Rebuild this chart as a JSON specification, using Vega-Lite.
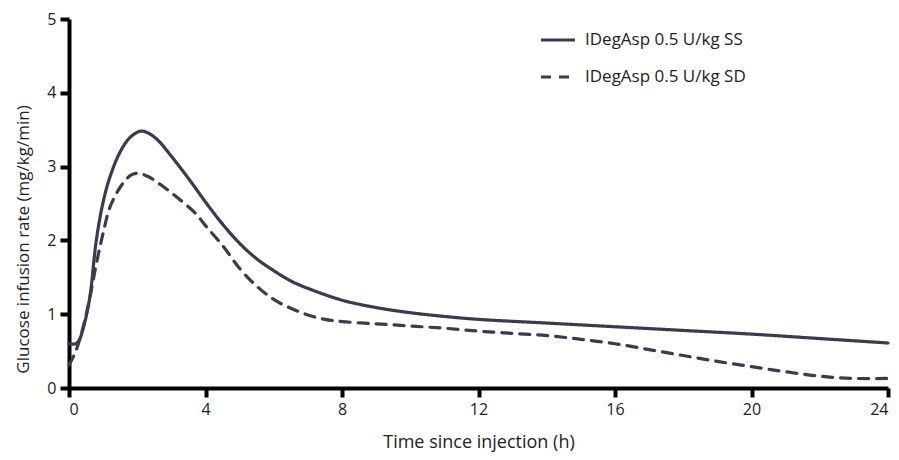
{
  "$schema": "https://vega.github.io/schema/vega-lite/v6.json",
  "autosize": "none",
  "width": 819,
  "height": 369,
  "padding": {"left": 69, "top": 19, "right": 11, "bottom": 72},
  "background": "white",
  "config": {
    "font": "Open Sans",
    "view": {"stroke": null}
  },
  "data": {"values": [
    {"t": 0, "v": 0.6, "s": "IDegAsp 0.5 U/kg SS"},
    {"t": 0.2, "v": 0.6, "s": "IDegAsp 0.5 U/kg SS"},
    {"t": 0.3, "v": 0.65, "s": "IDegAsp 0.5 U/kg SS"},
    {"t": 0.4, "v": 0.78, "s": "IDegAsp 0.5 U/kg SS"},
    {"t": 0.6, "v": 1.2, "s": "IDegAsp 0.5 U/kg SS"},
    {"t": 0.8, "v": 2.0, "s": "IDegAsp 0.5 U/kg SS"},
    {"t": 1.0, "v": 2.52, "s": "IDegAsp 0.5 U/kg SS"},
    {"t": 1.2, "v": 2.86, "s": "IDegAsp 0.5 U/kg SS"},
    {"t": 1.5, "v": 3.2, "s": "IDegAsp 0.5 U/kg SS"},
    {"t": 1.8, "v": 3.4, "s": "IDegAsp 0.5 U/kg SS"},
    {"t": 2.1, "v": 3.48, "s": "IDegAsp 0.5 U/kg SS"},
    {"t": 2.3, "v": 3.46, "s": "IDegAsp 0.5 U/kg SS"},
    {"t": 2.6, "v": 3.36, "s": "IDegAsp 0.5 U/kg SS"},
    {"t": 3.0, "v": 3.14, "s": "IDegAsp 0.5 U/kg SS"},
    {"t": 3.5, "v": 2.84, "s": "IDegAsp 0.5 U/kg SS"},
    {"t": 4.0, "v": 2.52, "s": "IDegAsp 0.5 U/kg SS"},
    {"t": 4.5, "v": 2.22, "s": "IDegAsp 0.5 U/kg SS"},
    {"t": 5.0, "v": 1.96, "s": "IDegAsp 0.5 U/kg SS"},
    {"t": 5.5, "v": 1.75, "s": "IDegAsp 0.5 U/kg SS"},
    {"t": 6.0, "v": 1.59, "s": "IDegAsp 0.5 U/kg SS"},
    {"t": 6.5, "v": 1.45, "s": "IDegAsp 0.5 U/kg SS"},
    {"t": 7.0, "v": 1.35, "s": "IDegAsp 0.5 U/kg SS"},
    {"t": 8.0, "v": 1.19, "s": "IDegAsp 0.5 U/kg SS"},
    {"t": 9.0, "v": 1.09, "s": "IDegAsp 0.5 U/kg SS"},
    {"t": 10.0, "v": 1.02, "s": "IDegAsp 0.5 U/kg SS"},
    {"t": 11.0, "v": 0.97, "s": "IDegAsp 0.5 U/kg SS"},
    {"t": 12.0, "v": 0.93, "s": "IDegAsp 0.5 U/kg SS"},
    {"t": 14.0, "v": 0.88, "s": "IDegAsp 0.5 U/kg SS"},
    {"t": 16.0, "v": 0.83, "s": "IDegAsp 0.5 U/kg SS"},
    {"t": 18.0, "v": 0.78, "s": "IDegAsp 0.5 U/kg SS"},
    {"t": 20.0, "v": 0.73, "s": "IDegAsp 0.5 U/kg SS"},
    {"t": 22.0, "v": 0.67, "s": "IDegAsp 0.5 U/kg SS"},
    {"t": 24.0, "v": 0.61, "s": "IDegAsp 0.5 U/kg SS"},
    {"t": 0, "v": 0.31, "s": "IDegAsp 0.5 U/kg SD"},
    {"t": 0.2, "v": 0.5, "s": "IDegAsp 0.5 U/kg SD"},
    {"t": 0.4, "v": 0.8, "s": "IDegAsp 0.5 U/kg SD"},
    {"t": 0.6, "v": 1.2, "s": "IDegAsp 0.5 U/kg SD"},
    {"t": 0.8, "v": 1.68, "s": "IDegAsp 0.5 U/kg SD"},
    {"t": 1.0, "v": 2.1, "s": "IDegAsp 0.5 U/kg SD"},
    {"t": 1.2, "v": 2.45, "s": "IDegAsp 0.5 U/kg SD"},
    {"t": 1.5, "v": 2.72, "s": "IDegAsp 0.5 U/kg SD"},
    {"t": 1.8, "v": 2.88, "s": "IDegAsp 0.5 U/kg SD"},
    {"t": 2.0, "v": 2.91, "s": "IDegAsp 0.5 U/kg SD"},
    {"t": 2.3, "v": 2.87, "s": "IDegAsp 0.5 U/kg SD"},
    {"t": 2.7, "v": 2.75, "s": "IDegAsp 0.5 U/kg SD"},
    {"t": 3.2, "v": 2.57, "s": "IDegAsp 0.5 U/kg SD"},
    {"t": 3.7, "v": 2.37, "s": "IDegAsp 0.5 U/kg SD"},
    {"t": 4.0, "v": 2.2, "s": "IDegAsp 0.5 U/kg SD"},
    {"t": 4.5, "v": 1.93, "s": "IDegAsp 0.5 U/kg SD"},
    {"t": 5.0, "v": 1.62, "s": "IDegAsp 0.5 U/kg SD"},
    {"t": 5.5, "v": 1.38, "s": "IDegAsp 0.5 U/kg SD"},
    {"t": 6.0, "v": 1.2, "s": "IDegAsp 0.5 U/kg SD"},
    {"t": 6.5, "v": 1.08, "s": "IDegAsp 0.5 U/kg SD"},
    {"t": 7.0, "v": 0.99, "s": "IDegAsp 0.5 U/kg SD"},
    {"t": 7.5, "v": 0.93, "s": "IDegAsp 0.5 U/kg SD"},
    {"t": 8.0, "v": 0.9, "s": "IDegAsp 0.5 U/kg SD"},
    {"t": 9.0, "v": 0.87, "s": "IDegAsp 0.5 U/kg SD"},
    {"t": 10.0, "v": 0.84, "s": "IDegAsp 0.5 U/kg SD"},
    {"t": 11.0, "v": 0.81, "s": "IDegAsp 0.5 U/kg SD"},
    {"t": 12.0, "v": 0.77, "s": "IDegAsp 0.5 U/kg SD"},
    {"t": 13.0, "v": 0.74, "s": "IDegAsp 0.5 U/kg SD"},
    {"t": 14.0, "v": 0.71, "s": "IDegAsp 0.5 U/kg SD"},
    {"t": 15.0, "v": 0.66, "s": "IDegAsp 0.5 U/kg SD"},
    {"t": 16.0, "v": 0.6, "s": "IDegAsp 0.5 U/kg SD"},
    {"t": 17.0, "v": 0.52, "s": "IDegAsp 0.5 U/kg SD"},
    {"t": 18.0, "v": 0.44, "s": "IDegAsp 0.5 U/kg SD"},
    {"t": 19.0, "v": 0.36, "s": "IDegAsp 0.5 U/kg SD"},
    {"t": 20.0, "v": 0.29, "s": "IDegAsp 0.5 U/kg SD"},
    {"t": 21.0, "v": 0.22, "s": "IDegAsp 0.5 U/kg SD"},
    {"t": 22.0, "v": 0.16, "s": "IDegAsp 0.5 U/kg SD"},
    {"t": 23.0, "v": 0.13, "s": "IDegAsp 0.5 U/kg SD"},
    {"t": 24.0, "v": 0.13, "s": "IDegAsp 0.5 U/kg SD"}
  ]},
  "mark": {"type": "line", "interpolate": "catmull-rom", "color": "#3b3a4e", "strokeWidth": 3.2, "strokeCap": "round", "clip": false},
  "encoding": {
    "x": {"field": "t", "type": "quantitative", "scale": {"domain": [0, 24], "nice": false, "zero": false},
      "axis": {"values": [0, 4, 8, 12, 16, 20, 24], "title": "Time since injection (h)", "grid": false,
        "domainColor": "#000000", "domainWidth": 4, "tickColor": "#000000", "tickWidth": 4, "tickSize": 9,
        "labelFont": "Open Sans", "labelFontSize": 16, "labelColor": "#222222", "labelPadding": 4,
        "titleFont": "Open Sans", "titleFontSize": 18, "titleFontWeight": "normal", "titleColor": "#222222", "titlePadding": 16}},
    "y": {"field": "v", "type": "quantitative", "scale": {"domain": [0, 5], "nice": false},
      "axis": {"values": [0, 1, 2, 3, 4, 5], "title": "Glucose infusion rate (mg/kg/min)", "grid": false,
        "domainColor": "#000000", "domainWidth": 4, "tickColor": "#000000", "tickWidth": 4, "tickSize": 9,
        "labelFont": "Open Sans", "labelFontSize": 16, "labelColor": "#222222", "labelPadding": 4,
        "titleFont": "Open Sans", "titleFontSize": 17, "titleFontWeight": "normal", "titleColor": "#222222", "titlePadding": 14, "titleY": 220}},
    "strokeDash": {"field": "s", "type": "nominal",
      "scale": {"domain": ["IDegAsp 0.5 U/kg SS", "IDegAsp 0.5 U/kg SD"], "range": [[1, 0], [10, 8]]},
      "legend": {"title": null, "orient": "none", "legendX": 470, "legendY": 2, "symbolType": "stroke", "symbolSize": 1156, "symbolStrokeWidth": 3.2, "symbolStrokeColor": "#3b3a4e", "labelFontSize": 17, "labelFont": "Open Sans", "labelColor": "#222222", "labelOffset": 8, "rowPadding": 10, "labelLimit": 300}}
  }
}
